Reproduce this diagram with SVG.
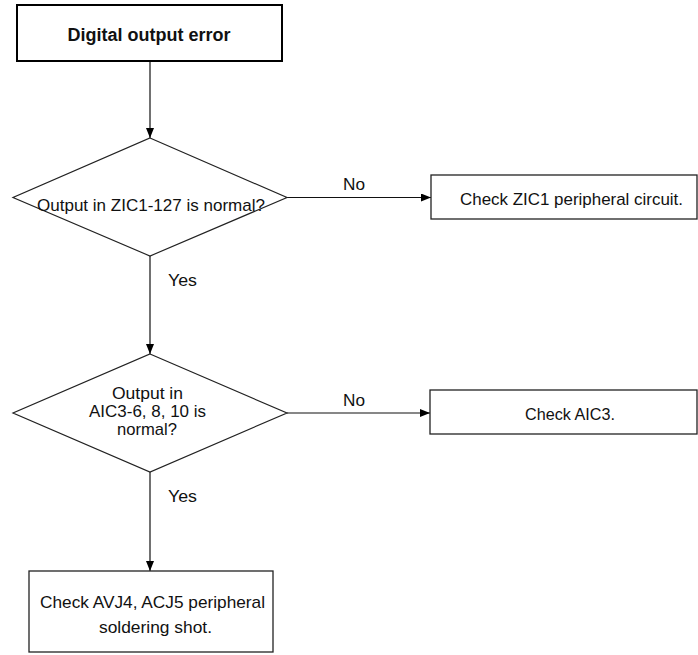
<svg xmlns="http://www.w3.org/2000/svg" width="698" height="655" viewBox="0 0 698 655">
<defs>
<marker id="arr" markerWidth="10" markerHeight="8" refX="10" refY="4" orient="auto" markerUnits="userSpaceOnUse">
<path d="M0,0 L10,4 L0,8 Z" fill="#000"/>
</marker>
<style>
text{font-family:"Liberation Sans",Arial,sans-serif;font-size:17px;fill:#111;text-anchor:middle}
.t{font-weight:bold;font-size:17.5px}
.box{fill:#fff;stroke:#222;stroke-width:1.3}
.dec{fill:#fff;stroke:#222;stroke-width:1.2}
.ln{fill:none;stroke:#111;stroke-width:1.2}
</style>
</defs>
<rect width="698" height="655" fill="#fff"/>
<g id="connectors">
<line class="ln" x1="150" y1="61" x2="150" y2="138" stroke="#666" marker-end="url(#arr)"/>
<line class="ln" x1="287" y1="197.5" x2="431" y2="197.5" marker-end="url(#arr)"/>
<line class="ln" x1="150" y1="256" x2="150" y2="354" marker-end="url(#arr)"/>
<line class="ln" x1="287" y1="413" x2="430" y2="413" marker-end="url(#arr)"/>
<line class="ln" x1="150" y1="472" x2="150" y2="571" marker-end="url(#arr)"/>
<text x="354" y="190" textLength="22" lengthAdjust="spacingAndGlyphs">No</text>
<text x="182.5" y="286" textLength="29" lengthAdjust="spacingAndGlyphs">Yes</text>
<text x="354" y="406" textLength="22" lengthAdjust="spacingAndGlyphs">No</text>
<text x="182.5" y="502" textLength="29" lengthAdjust="spacingAndGlyphs">Yes</text>
</g>
<g id="start">
<rect x="17" y="5" width="265" height="56" fill="#fff" stroke="#000" stroke-width="2"/>
<text class="t" x="149" y="41" textLength="163" lengthAdjust="spacingAndGlyphs">Digital output error</text>
</g>
<g id="dec1">
<polygon class="dec" points="150,138 287,197.5 150,256 13,197.5"/>
<text x="151" y="211" textLength="228" lengthAdjust="spacingAndGlyphs">Output in ZIC1-127 is normal?</text>
</g>
<g id="box-zic1">
<rect class="box" x="431" y="175" width="266" height="44"/>
<text x="571.5" y="205" textLength="223" lengthAdjust="spacingAndGlyphs">Check ZIC1 peripheral circuit.</text>
</g>
<g id="dec2">
<polygon class="dec" points="150,354 287,413 150,472 13,413"/>
<text x="147.5" y="399" textLength="71" lengthAdjust="spacingAndGlyphs">Output in</text>
<text x="147.5" y="417" textLength="117" lengthAdjust="spacingAndGlyphs">AIC3-6, 8, 10 is</text>
<text x="147" y="435" textLength="60" lengthAdjust="spacingAndGlyphs">normal?</text>
</g>
<g id="box-aic3">
<rect class="box" x="430" y="390" width="267" height="44"/>
<text x="570" y="420" textLength="90" lengthAdjust="spacingAndGlyphs">Check AIC3.</text>
</g>
<g id="box-avj4">
<rect class="box" x="29" y="571" width="244" height="81"/>
<text x="152.5" y="608" textLength="225" lengthAdjust="spacingAndGlyphs">Check AVJ4, ACJ5 peripheral</text>
<text x="155.5" y="633" textLength="113" lengthAdjust="spacingAndGlyphs">soldering shot.</text>
</g>
</svg>
